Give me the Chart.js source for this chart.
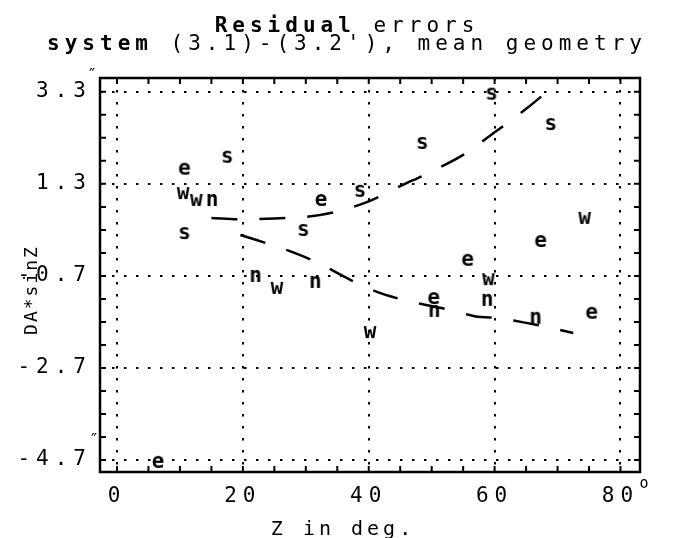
<!DOCTYPE html>
<html lang="en">
<head>
<meta charset="UTF-8">
<title>Residual errors</title>
<style>
    * { margin: 0; padding: 0; }
    body { background: #fff; }
    canvas { display: block; }
</style>
</head>
<body>
<canvas id="residChart" width="694" height="538"></canvas>

<script src="https://cdn.jsdelivr.net/npm/chart.js"></script>
<script>
    // residuals: Z (deg) and DA*sinZ
    var eZ = [6.5, 10.7, 32.4, 50.3, 55.7, 67.3, 75.4];
    var eVal = [-4.74, 1.63, 0.95, -1.18, -0.35, 0.06, -1.50];
    var sZ = [10.7, 17.5, 29.6, 38.6, 48.5, 59.5, 68.9];
    var sVal = [0.23, 1.89, 0.30, 1.15, 2.19, 3.26, 2.60];
    var wZ = [10.5, 12.6, 25.4, 40.2, 59.0, 74.3];
    var wVal = [1.10, 0.95, -0.96, -1.92, -0.77, 0.56];
    var nZ = [15.1, 22.0, 31.5, 50.4, 58.8, 66.5];
    var nVal = [0.95, -0.70, -0.83, -1.46, -1.22, -1.61];

    // dashed trend curves
    var upperZ = [15, 20, 25, 30, 35, 40, 45, 50, 55, 60, 65, 68.5];
    var upperVal = [0.56, 0.53, 0.55, 0.58, 0.70, 0.92, 1.25, 1.57, 1.93, 2.42, 2.93, 3.32];
    var lowerZ = [19.6, 24, 28, 32, 37, 42, 47, 53, 57, 61, 65, 69, 72.5];
    var lowerVal = [0.19, 0.0, -0.19, -0.42, -0.78, -1.08, -1.27, -1.44, -1.58, -1.62, -1.72, -1.83, -1.94];

    // axis ticks
    var xTicks = [0, 20, 40, 60, 80];
    var yTicks = [3.3, 1.3, -0.7, -2.7, -4.7];

    var MONO = '"DejaVu Sans Mono", "Liberation Mono", monospace';

    function pts(xs, ys) {
        return xs.map(function (x, i) { return { x: x, y: ys[i] }; });
    }

    // letter used as a point marker
    function letterMarker(ch) {
        var c = document.createElement('canvas');
        c.width = 26;
        c.height = 26;
        var g = c.getContext('2d');
        g.font = 'bold 21px ' + MONO;
        g.textAlign = 'center';
        g.textBaseline = 'alphabetic';
        g.fillStyle = '#000';
        g.fillText(ch, 13, 19);
        return c;
    }

    function drawParts(ctx, parts, cx, y, spacing) {
        ctx.letterSpacing = spacing + 'px';
        var total = 0;
        parts.forEach(function (p) { ctx.font = p.font; total += ctx.measureText(p.text).width; });
        var x = cx - total / 2;
        ctx.textAlign = 'left';
        parts.forEach(function (p) {
            ctx.font = p.font;
            ctx.fillText(p.text, x, y);
            x += ctx.measureText(p.text).width;
        });
    }

    var plotterText = {
        id: 'plotterText',
        beforeDraw: function (chart) {
            // wide pixel-plotter spacing for the axis tick labels
            chart.ctx.letterSpacing = '6px';
        },
        afterDraw: function (chart) {
            var ctx = chart.ctx;
            var area = chart.chartArea;
            var xs = chart.scales.x, ys = chart.scales.y;
            ctx.save();
            ctx.fillStyle = '#000';
            ctx.strokeStyle = '#000';

            // frame
            ctx.lineWidth = 2.5;
            ctx.strokeRect(area.left, area.top, area.right - area.left, area.bottom - area.top);

            // inward minor ticks
            ctx.lineWidth = 2;
            ctx.beginPath();
            for (var v = 0; v <= 80.01; v += 5) {
                var px = xs.getPixelForValue(v);
                ctx.moveTo(px, area.bottom); ctx.lineTo(px, area.bottom - 6);
                ctx.moveTo(px, area.top); ctx.lineTo(px, area.top + 6);
            }
            for (var k = 0; k <= 16; k++) {
                var py = ys.getPixelForValue(-4.7 + k * 0.5);
                ctx.moveTo(area.left, py); ctx.lineTo(area.left + 6, py);
                ctx.moveTo(area.right, py); ctx.lineTo(area.right - 6, py);
            }
            ctx.stroke();

            // titles
            ctx.textBaseline = 'alphabetic';
            var bold = 'bold 21px ' + MONO, norm = '21px ' + MONO;
            drawParts(ctx, [{ text: 'Residual', font: bold }, { text: ' errors', font: norm }], 347, 32, 5);
            drawParts(ctx, [{ text: 'system', font: bold }, { text: " (3.1)-(3.2'), mean geometry", font: norm }], 347, 50, 5);

            // x axis title
            drawParts(ctx, [{ text: 'Z in deg.', font: '20px ' + MONO }], 343, 535, 4);

            // y axis title
            ctx.save();
            ctx.translate(32, 290);
            ctx.rotate(-Math.PI / 2);
            ctx.textBaseline = 'middle';
            drawParts(ctx, [{ text: 'DA*sinZ', font: '18px ' + MONO }], 0, 0, 2);
            ctx.restore();

            // unit marks
            ctx.letterSpacing = '0px';
            ctx.textAlign = 'center';
            ctx.font = '16px ' + MONO;
            ctx.fillText('\u2033', 92, 80);
            ctx.fillText('\u2033', 94, 445);
            ctx.font = '15px ' + MONO;
            ctx.fillText('o', 644, 488);
            ctx.restore();
        }
    };

    var ctx = document.getElementById('residChart').getContext('2d');
    var residChart = new Chart(ctx, {
        type: 'scatter',
        data: {
            datasets: [
                {
                    data: pts(upperZ, upperVal), showLine: true, pointRadius: 0,
                    borderColor: '#000', borderWidth: 2.5, borderDash: [26, 22], tension: 0.3
                },
                {
                    data: pts(lowerZ, lowerVal), showLine: true, pointRadius: 0,
                    borderColor: '#000', borderWidth: 2.5, borderDash: [26, 22], tension: 0.3
                },
                { data: pts(eZ, eVal), pointStyle: letterMarker('e'), pointRadius: 10 },
                { data: pts(sZ, sVal), pointStyle: letterMarker('s'), pointRadius: 10 },
                { data: pts(wZ, wVal), pointStyle: letterMarker('w'), pointRadius: 10 },
                { data: pts(nZ, nVal), pointStyle: letterMarker('n'), pointRadius: 10 }
            ]
        },
        options: {
            responsive: false,
            devicePixelRatio: 1,
            animation: false,
            layout: { padding: { left: 0, top: 78, right: 54, bottom: 0 } },
            plugins: {
                legend: { display: false },
                tooltip: { enabled: false }
            },
            scales: {
                x: {
                    type: 'linear',
                    min: -2.7,
                    max: 83.1,
                    afterBuildTicks: function (scale) {
                        scale.ticks = xTicks.map(function (v) { return { value: v }; });
                    },
                    afterFit: function (scale) { scale.height = 66; },
                    grid: { color: '#000', lineWidth: 2, drawTicks: false },
                    border: { display: false, dash: [2.5, 9.5] },
                    ticks: { color: '#000', padding: 12, maxRotation: 0, font: { family: MONO, size: 21 } }
                },
                y: {
                    type: 'linear',
                    min: -4.96,
                    max: 3.6,
                    afterBuildTicks: function (scale) {
                        scale.ticks = yTicks.map(function (v) { return { value: v }; });
                    },
                    afterFit: function (scale) { scale.width = 100; },
                    grid: { color: '#000', lineWidth: 2, drawTicks: false },
                    border: { display: false, dash: [2.5, 9.5] },
                    ticks: { color: '#000', padding: 8, font: { family: MONO, size: 21 } }
                }
            }
        },
        plugins: [plotterText]
    });
</script>
</body>
</html>
